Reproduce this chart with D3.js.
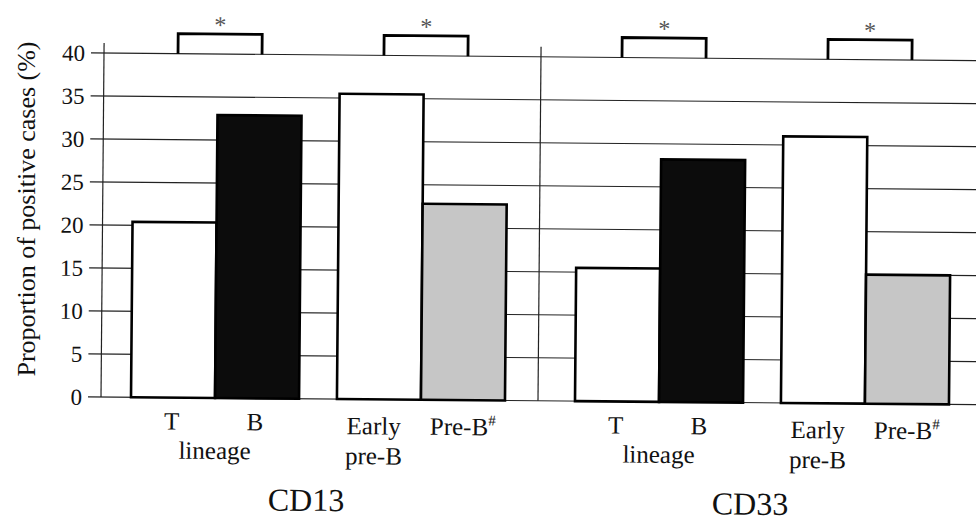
<!DOCTYPE html>
<html>
<head>
<meta charset="utf-8">
<script src="https://cdn.jsdelivr.net/npm/d3@7"></script>
<style>
  body { margin: 0; background: #fff; }
  svg { display: block; }
</style>
</head>
<body>
<div id="chart"></div>
<script>
const groups = ["CD13", "CD33"];
const categories = ["T", "B", "Early pre-B", "Pre-B"];
const cd13Values = [20.4, 32.9, 35.5, 22.8];
const cd33Values = [15.5, 28.2, 31.0, 15.0];
const yTicks = [0, 5, 10, 15, 20, 25, 30, 35, 40];
const pairs = [["T", "B"], ["Early pre-B", "Pre-B"]];
const pairNames = ["lineage", "stage"];
const barFills = { "T": "#ffffff", "B": "#0c0c0c", "Early pre-B": "#ffffff", "Pre-B": "#c6c6c6" };

const width = 976, height = 522;
const margin = { top: 53, left: 101, bottom: 125 };
const zeroY = height - margin.bottom;
const serif = "'Liberation Serif', 'Times New Roman', 'DejaVu Serif', serif";

const valuesByGroup = { CD13: cd13Values, CD33: cd33Values };
const data = groups.flatMap((g) =>
  categories.map((c, i) => ({ group: g, category: c, value: valuesByGroup[g][i] }))
);

const svg = d3.select("#chart").append("svg")
  .attr("width", width).attr("height", height)
  .attr("viewBox", [0, 0, width, height])
  .attr("font-family", serif);

// the scan is slightly tilted
const g = svg.append("g").attr("transform", `rotate(0.5, ${margin.left}, ${zeroY})`);

const y = d3.scaleLinear().domain([0, 40]).range([zeroY, margin.top]);

const xGroup = d3.scaleBand().domain(groups).range([96, 984]);
const xPair = d3.scaleBand().domain(pairNames).range([0, xGroup.bandwidth()])
  .paddingInner(0.184).paddingOuter(0.17);
const xBar = d3.scaleBand().domain([0, 1]).range([0, xPair.bandwidth()]);

const barX = (d) => {
  const p = pairs.findIndex((pr) => pr.includes(d.category));
  const i = pairs[p].indexOf(d.category);
  return xGroup(d.group) + xPair(pairNames[p]) + xBar(i);
};
const barCx = (grp, cat) => barX({ group: grp, category: cat }) + xBar.bandwidth() / 2;

// gridlines
g.append("g")
  .selectAll("line")
  .data(yTicks)
  .join("line")
  .attr("x1", margin.left - 13)
  .attr("x2", width + 10)
  .attr("y1", y).attr("y2", y)
  .attr("stroke", "#222")
  .attr("stroke-width", 1.1);

// y axis line
g.append("line")
  .attr("x1", margin.left).attr("x2", margin.left)
  .attr("y1", y(40) - 10).attr("y2", zeroY)
  .attr("stroke", "#222").attr("stroke-width", 1.2);

// divider between panels
const dividerX = xGroup("CD33") - 2;
g.append("line")
  .attr("x1", dividerX).attr("x2", dividerX)
  .attr("y1", y(40) - 10).attr("y2", zeroY)
  .attr("stroke", "#222").attr("stroke-width", 1.2);

// tick labels
g.append("g")
  .selectAll("text")
  .data(yTicks)
  .join("text")
  .attr("x", margin.left - 19)
  .attr("y", y)
  .attr("dy", "0.35em")
  .attr("text-anchor", "end")
  .attr("font-size", 23)
  .attr("fill", "#111")
  .text((d) => d);

// bars
g.append("g")
  .selectAll("rect")
  .data(data)
  .join("rect")
  .attr("x", barX)
  .attr("width", xBar.bandwidth())
  .attr("y", (d) => y(d.value))
  .attr("height", (d) => zeroY - y(d.value))
  .attr("fill", (d) => barFills[d.category])
  .attr("stroke", "#000")
  .attr("stroke-width", 2.6);

// significance brackets
const brackets = groups.flatMap((grp) => pairs.map((pr) => ({ group: grp, pair: pr })));
const bracketTop = y(40) - 20;
g.append("g")
  .selectAll("path")
  .data(brackets)
  .join("path")
  .attr("d", (d) => {
    const a = barCx(d.group, d.pair[0]) + 2;
    const b = barCx(d.group, d.pair[1]) + 2;
    return `M${a},${y(40)}V${bracketTop}H${b}V${y(40)}`;
  })
  .attr("fill", "none")
  .attr("stroke", "#000")
  .attr("stroke-width", 2.8);

g.append("g")
  .selectAll("text")
  .data(brackets)
  .join("text")
  .attr("x", (d) => barX({ group: d.group, category: d.pair[1] }) + 2)
  .attr("y", bracketTop - 1)
  .attr("text-anchor", "middle")
  .attr("font-size", 24)
  .attr("fill", "#555")
  .text("*");

// category labels
const labels = g.append("g").attr("font-size", 25).attr("fill", "#111").attr("text-anchor", "middle");
groups.forEach((grp) => {
  labels.append("text").attr("x", barCx(grp, "T") - 1).attr("y", zeroY + 32).text("T");
  labels.append("text").attr("x", barCx(grp, "B") - 2).attr("y", zeroY + 32).text("B");
  labels.append("text")
    .attr("x", xGroup(grp) + xPair("lineage") + xPair.bandwidth() / 2)
    .attr("y", zeroY + 61).text("lineage");
  labels.append("text").attr("x", barCx(grp, "Early pre-B") - 5).attr("y", zeroY + 35).text("Early");
  labels.append("text").attr("x", barCx(grp, "Early pre-B") - 5).attr("y", zeroY + 65).text("pre-B");
  const pb = labels.append("text").attr("x", barCx(grp, "Pre-B")).attr("y", zeroY + 35);
  pb.append("tspan").text("Pre-B");
  pb.append("tspan").attr("font-size", 15).attr("dy", -10).text("#");

  g.append("text")
    .attr("x", xGroup(grp) + xGroup.bandwidth() / 2 - 11)
    .attr("y", zeroY + 112)
    .attr("text-anchor", "middle")
    .attr("font-size", 32)
    .attr("fill", "#111")
    .text(grp);
});

// y axis title
svg.append("text")
  .attr("transform", `translate(35, 209) rotate(-90)`)
  .attr("text-anchor", "middle")
  .attr("font-size", 26)
  .attr("fill", "#111")
  .text("Proportion of positive cases (%)");
</script>
</body>
</html>
